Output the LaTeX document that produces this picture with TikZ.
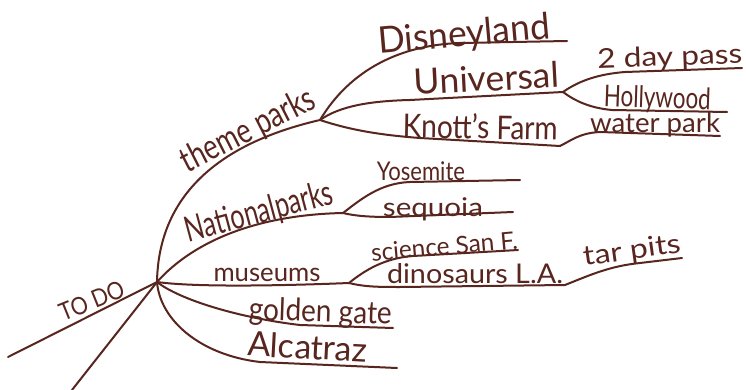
\documentclass[tikz,border=0pt]{standalone}
\usepackage{fontspec}
\setmainfont{Lato}
\usepackage{graphicx}
\definecolor{ink}{RGB}{88,38,30}
\tikzset{
  branch/.style={draw=ink, line width=2pt, line cap=round, line join=round},
  lbl/.style={text=ink, inner sep=0pt, anchor=base},
}
% width, ascender height, text
\newcommand{\hw}[3]{\resizebox{#1pt}{#2pt}{\vphantom{Ald}#3}}
\begin{document}
\begin{tikzpicture}[x=1pt,y=-1pt]
\fill[white] (0,0) rectangle (746,390);
\useasboundingbox (0,0) rectangle (746,390);
% hubs and ends
\coordinate (C) at (157,282);
\coordinate (tdE) at (8,357);
\coordinate (btE) at (72,390);
\coordinate (TP) at (320,120);
\coordinate (dlE) at (567,41);
\coordinate (U) at (563,92);
\coordinate (dpE) at (742,68);
\coordinate (hwE) at (727,112);
\coordinate (KF) at (560,146);
\coordinate (wpE) at (720,136);
\coordinate (NP) at (343,213);
\coordinate (ysE) at (520,180);
\coordinate (sqE) at (513,212);
\coordinate (MU) at (349,283);
\coordinate (scE) at (518,250);
\coordinate (DL) at (565,285);
\coordinate (tpE) at (682,258);
\coordinate (ggE) at (393,328);
\coordinate (alE) at (397,368);
% labels
\node[lbl, rotate=22] (todo) at (95,309) {\hw{68}{18}{TO DO}};
\node[lbl, rotate=27] (theme) at (253,140) {\hw{146}{26}{theme parks}};
\node[lbl, rotate=5] (disney) at (465,46) {\hw{172}{27}{Disneyland}};
\node[lbl, rotate=3] (univ) at (487,91) {\hw{145}{26}{Universal}};
\node[lbl, rotate=2] (pass) at (670,66) {\hw{145}{20}{2 day pass}};
\node[lbl, rotate=-2] (holly) at (657,108) {\hw{107}{22}{Hollywood}};
\node[lbl, rotate=-1] (knott) at (480,139) {\hw{155}{25}{Knott's Farm}};
\node[lbl] (water) at (655,133) {\hw{130}{20}{water park}};
\node[lbl, rotate=15] (natl) at (262,223) {\hw{152}{26}{Nationalparks}};
\node[lbl] (yose) at (421,180) {\hw{88}{19}{Yosemite}};
\node[lbl] (seq) at (433,216) {\hw{100}{19}{sequoia}};
\node[lbl] (mus) at (267,281) {\hw{107}{19}{museums}};
\node[lbl, rotate=5] (sci) at (445,255) {\hw{147}{18}{science San F.}};
\node[lbl] (dino) at (475,283) {\hw{176}{20}{dinosaurs L.A.}};
\node[lbl, rotate=8] (tar) at (633,259) {\hw{98}{20}{tar pits}};
\node[lbl, rotate=-2] (golden) at (320,322) {\hw{143}{23}{golden gate}};
\node[lbl, rotate=-3] (alca) at (307,359) {\hw{120}{25}{Alcatraz}};
% connectors
\draw[branch] (C) -- (tdE);
\draw[branch] (C) -- (btE);
\draw[branch] (C) .. controls (158,220) and (190,150) .. (TP);
\draw[branch] (TP) .. controls (350,70) and (400,45) .. (460,43) -- (dlE);
\draw[branch] (TP) .. controls (340,106) and (370,101) .. (410,100) -- (U);
\draw[branch] (U) .. controls (580,80) and (600,74) .. (625,72) -- (dpE);
\draw[branch] (U) .. controls (575,101) and (590,108) .. (612,110) -- (hwE);
\draw[branch] (TP) .. controls (350,130) and (380,135) .. (420,138) -- (KF);
\draw[branch] (KF) .. controls (572,140) and (580,133) .. (600,132) -- (wpE);
\draw[branch] (C) .. controls (190,245) and (250,215) .. (NP);
\draw[branch] (NP) .. controls (360,200) and (380,183) .. (410,182) -- (ysE);
\draw[branch] (NP) .. controls (355,216) and (370,217) .. (390,217) -- (sqE);
\draw[branch] (C) .. controls (200,288) and (300,285) .. (MU);
\draw[branch] (MU) .. controls (365,270) and (385,258) .. (413,256) -- (scE);
\draw[branch] (MU) .. controls (365,287) and (380,287) .. (400,287) -- (DL);
\draw[branch] (DL) .. controls (590,275) and (610,266) .. (640,263) -- (tpE);
\draw[branch] (C) .. controls (180,300) and (240,318) .. (300,325) -- (ggE);
\draw[branch] (C) .. controls (160,320) and (200,355) .. (260,362) -- (alE);
\end{tikzpicture}
\end{document}
